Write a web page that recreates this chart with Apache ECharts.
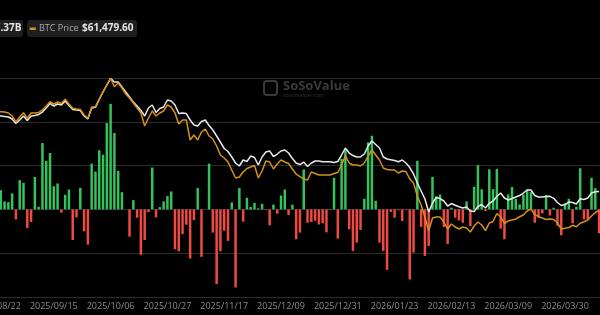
<!DOCTYPE html>
<html>
<head>
<meta charset="utf-8">
<script src="https://cdn.jsdelivr.net/npm/echarts@6/dist/echarts.min.js"></script>
<style>
  html, body { margin: 0; padding: 0; background: #000; }
  #chart { width: 600px; height: 315px; }
</style>
</head>
<body>
<div id="chart"></div>
<script>
// trading days (BTC spot ETF daily flows)
const dates = [
  '2025/08/22', '2025/08/25', '2025/08/26', '2025/08/27', '2025/08/28', '2025/08/29',
  '2025/09/02', '2025/09/03', '2025/09/04', '2025/09/05', '2025/09/08', '2025/09/09', '2025/09/10', '2025/09/11', '2025/09/12',
  '2025/09/15', '2025/09/16', '2025/09/17', '2025/09/18', '2025/09/19', '2025/09/22', '2025/09/23', '2025/09/24', '2025/09/25', '2025/09/26',
  '2025/09/29', '2025/09/30', '2025/10/01', '2025/10/02', '2025/10/03', '2025/10/06', '2025/10/07', '2025/10/08', '2025/10/09', '2025/10/10',
  '2025/10/13', '2025/10/14', '2025/10/15', '2025/10/16', '2025/10/17', '2025/10/20', '2025/10/21', '2025/10/22', '2025/10/23', '2025/10/24',
  '2025/10/27', '2025/10/28', '2025/10/29', '2025/10/30', '2025/10/31', '2025/11/03', '2025/11/04', '2025/11/05', '2025/11/06', '2025/11/07',
  '2025/11/10', '2025/11/11', '2025/11/12', '2025/11/13', '2025/11/14', '2025/11/17', '2025/11/18', '2025/11/19', '2025/11/20', '2025/11/21',
  '2025/11/24', '2025/11/25', '2025/11/26', '2025/11/28', '2025/12/01', '2025/12/02', '2025/12/03', '2025/12/04', '2025/12/05', '2025/12/08',
  '2025/12/09', '2025/12/10', '2025/12/11', '2025/12/12', '2025/12/15', '2025/12/16', '2025/12/17', '2025/12/18', '2025/12/19', '2025/12/22',
  '2025/12/23', '2025/12/24', '2025/12/26', '2025/12/29', '2025/12/30', '2025/12/31', '2026/01/02', '2026/01/05', '2026/01/06', '2026/01/07',
  '2026/01/08', '2026/01/09', '2026/01/12', '2026/01/13', '2026/01/14', '2026/01/15', '2026/01/16', '2026/01/20', '2026/01/21', '2026/01/22',
  '2026/01/23', '2026/01/26', '2026/01/27', '2026/01/28', '2026/01/29', '2026/01/30', '2026/02/02', '2026/02/03', '2026/02/04', '2026/02/05',
  '2026/02/06', '2026/02/09', '2026/02/10', '2026/02/11', '2026/02/12', '2026/02/13', '2026/02/17', '2026/02/18', '2026/02/19', '2026/02/20',
  '2026/02/23', '2026/02/24', '2026/02/25', '2026/02/26', '2026/02/27', '2026/03/02', '2026/03/03', '2026/03/04', '2026/03/05', '2026/03/06',
  '2026/03/09', '2026/03/10', '2026/03/11', '2026/03/12', '2026/03/13', '2026/03/16', '2026/03/17', '2026/03/18', '2026/03/19', '2026/03/20',
  '2026/03/23', '2026/03/24', '2026/03/25', '2026/03/26', '2026/03/27', '2026/03/30', '2026/03/31', '2026/04/01', '2026/04/02', '2026/04/06',
  '2026/04/07', '2026/04/08', '2026/04/09', '2026/04/10', '2026/04/13'
];

// daily total net inflow, $M
const netInflow = [
  0, 220, 91, 83, 182, -114, 334, 303, -212, -144,
  371, 30, 758, 553, 644, 265, 296, -38, 167, 227,
  -349, -91, 246, -250, -402, 523, 432, 675, 625, 985,
  1205, 872, 440, 197, 0, -311, 106, -95, -519, -349,
  -30, 478, -91, 27, 91, 152, 205, -455, -478, -280,
  -174, -561, -121, 243, -542, 0, 523, -265, -853, -478,
  -243, -360, 80, -891, 243, -140, 133, 28, 76, 12,
  64, -8, -182, 55, -49, 159, 227, -64, 55, -341,
  -265, 455, -152, -144, -130, -172, -159, -262, -8, 360,
  -333, 576, 682, -227, -474, -379, -235, 121, 765, 841,
  98, -379, -474, -690, -28, -95, -10, -133, -8, -800,
  -493, 555, -200, -531, -417, 371, 150, 170, -200, -396,
  19, -95, -127, -152, 91, -190, 258, 505, 230, -19,
  458, 231, 462, -220, -341, 171, 256, 120, 57, 170,
  225, 197, -152, -95, -45, 165, -68, 19, -186, -296,
  68, 121, -159, 30, 470, -114, -114, 360, 243, -273
];

// total net assets, $B
const netAssets = [
  145.71, 145.71, 145.39, 145.07, 143.79, 140.91, 143.15, 145.71, 142.83, 145.71,
  146.03, 146.67, 148.26, 150.82, 153.70, 152.10, 153.38, 152.74, 155.30, 152.42,
  149.86, 149.54, 149.22, 145.71, 143.79, 150.82, 151.27, 156.26, 161.05, 165.52,
  169.81, 167.44, 167.44, 164.25, 161.05, 157.85, 154.66, 152.10, 149.22, 145.71,
  150.82, 152.74, 147.94, 150.50, 151.46, 155.94, 155.30, 152.74, 147.30, 147.62,
  147.30, 143.15, 139.95, 139.31, 142.19, 143.15, 139.63, 136.76, 132.92, 129.08,
  124.93, 123.01, 119.50, 115.66, 113.74, 117.58, 116.62, 120.13, 119.18, 114.38,
  119.50, 122.69, 123.33, 119.81, 121.41, 123.33, 123.97, 122.05, 118.54, 115.66,
  114.70, 116.30, 113.42, 115.66, 116.94, 116.94, 116.49, 116.49, 116.49, 115.98,
  116.62, 120.77, 125.25, 122.05, 120.45, 119.50, 119.50, 121.41, 126.53, 129.72,
  127.49, 125.25, 119.50, 118.22, 117.77, 117.26, 116.49, 117.58, 115.66, 112.78,
  108.63, 102.87, 97.76, 92.64, 84.33, 90.09, 93.60, 92.96, 91.37, 88.17,
  89.77, 88.62, 87.72, 86.89, 87.53, 84.97, 84.65, 87.85, 89.13, 86.89,
  89.90, 91.37, 94.24, 96.48, 93.28, 92.00, 92.96, 93.92, 94.88, 96.48,
  98.40, 98.40, 94.88, 93.92, 93.92, 94.24, 94.37, 93.09, 90.41, 88.49,
  89.13, 90.73, 90.41, 89.45, 92.84, 92.33, 93.28, 96.48, 97.31, 97.37
];

// BTC price, $
const btcPrice = [
  108700, 108840, 108700, 108220, 106780, 104050, 106300, 108360, 105680, 108220,
  108220, 108460, 109660, 111580, 113640, 112530, 113490, 112770, 114790, 112530,
  110470, 110140, 109900, 107260, 105680, 111100, 111240, 114930, 118430, 121640,
  124860, 120830, 122600, 120210, 117330, 115410, 113010, 110620, 108220, 101990,
  105820, 109180, 106780, 108220, 109180, 112050, 111100, 108220, 102950, 104860,
  104860, 95270, 97670, 95270, 99110, 100550, 97190, 95750, 92400, 88080,
  86640, 84730, 80890, 77050, 77530, 79930, 81610, 82330, 83050, 77050,
  80410, 85210, 84730, 81370, 83770, 85690, 84730, 84010, 81370, 78970,
  77770, 76580, 76100, 79930, 79210, 78490, 78490, 78490, 78490, 79210,
  79690, 83290, 87600, 84250, 83290, 83290, 82810, 84250, 87600, 90480,
  88080, 85690, 81850, 81130, 80890, 80890, 79450, 80410, 80170, 76580,
  74660, 68420, 64110, 58360, 51640, 57880, 58360, 58360, 55960, 52600,
  55000, 53560, 52600, 53560, 53080, 51160, 54040, 55960, 54520, 51790,
  55480, 56200, 60040, 58360, 55240, 56440, 56920, 57400, 58500, 59320,
  61230, 62190, 59560, 58500, 57880, 57160, 57400, 57160, 55480, 52600,
  52940, 53320, 54380, 53710, 55340, 56100, 56920, 58840, 60510, 61479.6
];

const GREEN = '#33c25b';
const RED = '#ef4a42';
const ORANGE = '#d4911c';
const WHITE = '#e8e8e8';
const GRID_LINE = '#2c2c2c';

var chart = echarts.init(document.getElementById('chart'));

option = {
    backgroundColor: '#000',
    animation: false,
    grid: {
        left: -4.9,
        right: -1,
        top: 78,
        bottom: 18,
        outerBoundsMode: 'none'
    },
    xAxis: {
        type: 'category',
        data: dates,
        boundaryGap: true,
        axisLine: { show: true, lineStyle: { color: GRID_LINE } },
        axisTick: { show: false },
        axisLabel: {
            interval: 14,
            color: '#8c8c8c',
            fontSize: 9,
            fontFamily: 'Open Sans',
            margin: 5,
            hideOverlap: false
        },
        splitLine: { show: false }
    },
    yAxis: [{
            // flows
            type: 'value',
            min: -1000,
            max: 1500,
            interval: 500,
            show: true,
            axisLine: { show: false },
            axisTick: { show: false },
            axisLabel: { show: false },
            splitLine: { show: true, lineStyle: { color: GRID_LINE, width: 1 } }
        },
        {
            // assets
            type: 'value',
            min: 30,
            max: 170,
            show: false,
            splitLine: { show: false }
        },
        {
            // price
            type: 'value',
            min: 20000,
            max: 125000,
            show: false,
            splitLine: { show: false }
        }
    ],
    series: [{
            name: 'Daily Total Net Inflow',
            type: 'bar',
            yAxisIndex: 0,
            barWidth: '66%',
            data: netInflow.map(function (v) {
                return { value: v, itemStyle: { color: v >= 0 ? GREEN : RED } };
            })
        },
        {
            name: 'Total Net Assets',
            type: 'line',
            yAxisIndex: 1,
            data: netAssets,
            symbol: 'none',
            lineStyle: { color: WHITE, width: 1.5 },
            z: 3
        },
        {
            name: 'BTC Price',
            type: 'line',
            yAxisIndex: 2,
            data: btcPrice,
            symbol: 'none',
            lineStyle: { color: ORANGE, width: 1.5 },
            z: 4
        }
    ],
    graphic: [
        // watermark
        {
            type: 'rect',
            shape: { x: 264, y: 81, width: 13, height: 14, r: 3 },
            style: { fill: 'none', stroke: '#3a3a3a', lineWidth: 2 },
            z: 1
        },
        {
            type: 'text',
            x: 283, y: 80,
            style: { text: 'SoSoValue', fill: '#3a3a3a', font: 'bold 13px "Open Sans"' },
            z: 1
        },
        {
            type: 'text',
            x: 283, y: 92,
            style: { text: 'sosovalue.com', fill: '#333', font: '6px "Open Sans"' },
            z: 1
        },
        // header badges
        {
            type: 'rect',
            shape: { x: -40, y: 20, width: 63, height: 17, r: 3 },
            style: { fill: '#1f1f1f' },
            z: 10
        },
        {
            type: 'text',
            x: 21.5, y: 28.5,
            style: { text: '$97.37B', fill: '#e6e6e6', font: 'bold 10px "Open Sans"', align: 'right', verticalAlign: 'middle' },
            z: 11
        },
        {
            type: 'rect',
            shape: { x: 27, y: 20, width: 110, height: 17, r: 3 },
            style: { fill: '#1f1f1f' },
            z: 10
        },
        {
            type: 'rect',
            shape: { x: 29.5, y: 27.5, width: 6.5, height: 2.5, r: 1 },
            style: { fill: ORANGE },
            z: 11
        },
        {
            type: 'text',
            x: 39, y: 28.5,
            style: { text: 'BTC Price', fill: '#a8a8a8', font: '9px "Open Sans"', verticalAlign: 'middle' },
            z: 11
        },
        {
            type: 'text',
            x: 82, y: 28.5,
            style: { text: '$61,479.60', fill: '#e6e6e6', font: 'bold 10px "Open Sans"', verticalAlign: 'middle' },
            z: 11
        }
    ]
};

chart.setOption(option);
</script>
</body>
</html>
